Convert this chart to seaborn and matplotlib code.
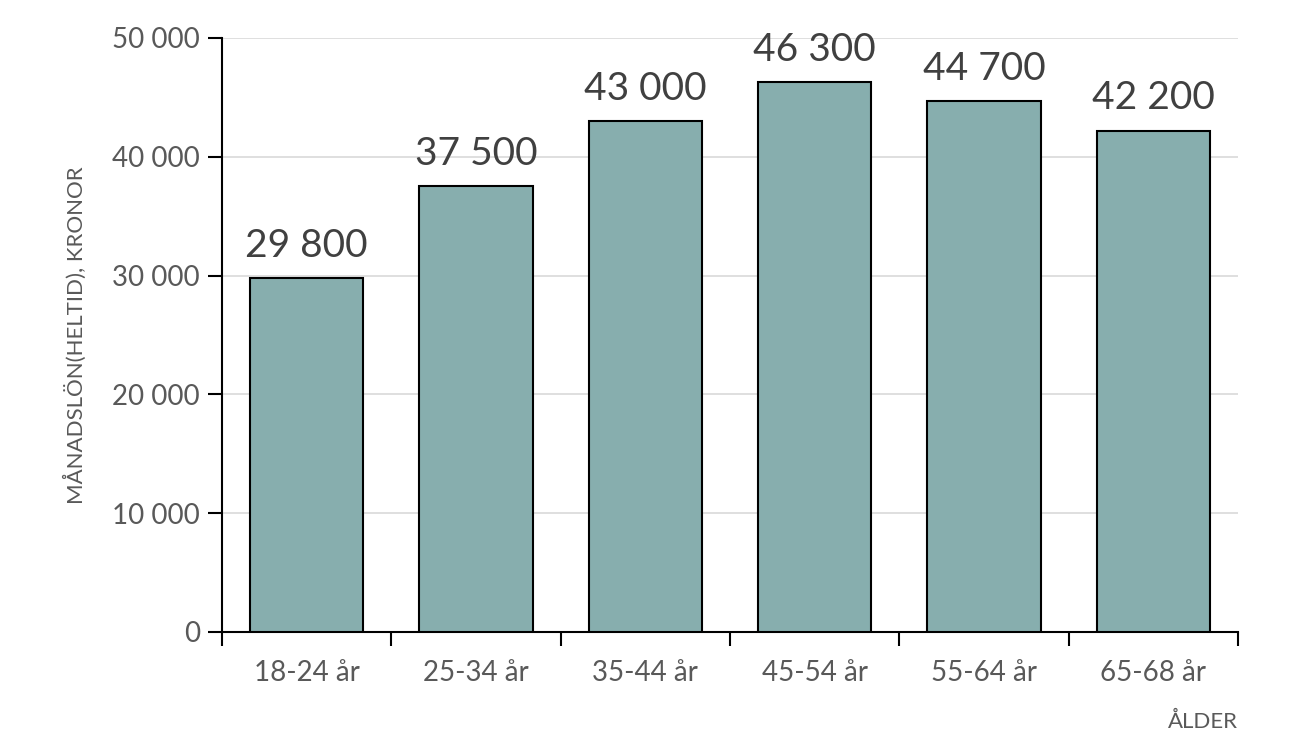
import matplotlib
matplotlib.use("Agg")
import matplotlib.pyplot as plt
import seaborn as sns
import pandas as pd
from matplotlib.ticker import FuncFormatter, FixedLocator

categories = ["18-24 år", "25-34 år", "35-44 år", "45-54 år", "55-64 år", "65-68 år"]
values = [29800, 37500, 43000, 46300, 44700, 42200]
df = pd.DataFrame({"age": categories, "salary": values})

sns.set_theme(style="white")
plt.rcParams['font.family'] = ['Lato', 'DejaVu Sans']
textc = "#595959"

fig = plt.figure(figsize=(12.96, 7.52), dpi=100)
ax = fig.add_axes([222/1296, 1-632/752, (1238-222)/1296, (632-38)/752])
sns.barplot(data=df, x="age", y="salary", color="#87AEAE", saturation=1,
            width=0.67, edgecolor="black", linewidth=1.5, ax=ax, zorder=3)
ax.set_ylim(0, 50000)
ax.set_xlim(-0.5, 5.5)
ax.set_yticks(range(0, 50001, 10000))
ax.yaxis.set_major_formatter(FuncFormatter(lambda v, p: f"{int(v):,}".replace(",", " ")))
ax.grid(axis="y", color="#d9d9d9", linewidth=1.2, zorder=0)
for s in ["top", "right"]:
    ax.spines[s].set_visible(False)
for s in ["left", "bottom"]:
    ax.spines[s].set_color("black")
    ax.spines[s].set_linewidth(1.5)
ax.tick_params(axis="y", left=True, length=10, width=1.5, color="black",
               labelsize=20, labelcolor=textc, pad=6)
ax.tick_params(axis="x", bottom=False, labelsize=20, labelcolor=textc, pad=14)
ax.xaxis.set_minor_locator(FixedLocator([i - 0.5 for i in range(7)]))
ax.tick_params(axis="x", which="minor", bottom=True, length=10, width=1.5, color="black")
for i, v in enumerate(values):
    ax.text(i, v + 1200, f"{v:,}".replace(",", " "), ha="center", va="bottom",
            fontsize=28, color="#404040")
ax.set_xlabel("")
ax.set_ylabel("MÅNADSLÖN(HELTID), KRONOR", fontsize=16, color=textc, labelpad=18)
fig.text(1238/1296, 1-722/752, "ÅLDER", ha="right", va="center", fontsize=16, color=textc)
fig.savefig("out.png", dpi=100)
